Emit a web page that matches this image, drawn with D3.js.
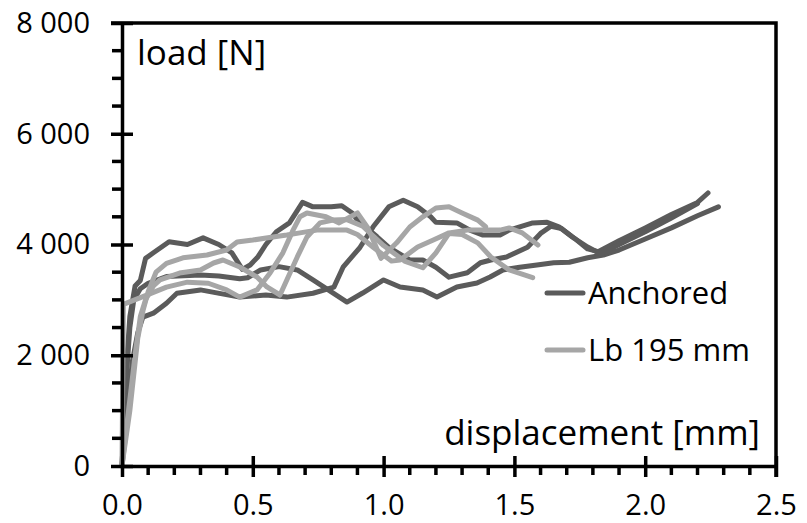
<!DOCTYPE html>
<html>
<head>
<meta charset="utf-8">
<script src="https://cdn.jsdelivr.net/npm/d3@7"></script>
<style>
  body { margin: 0; background: #fff; }
  svg text { font-family: "Open Sans", "Noto Sans", sans-serif; fill: #000; }
  .tick-label { font-size: 29px; }
  .title { font-size: 35px; }
  .legend { font-size: 31px; }
</style>
</head>
<body>
<svg id="chart" width="807" height="523"></svg>
<script>
// displacement [mm], load [N]
var anchored1 = [[0,0],[0.01,1000],[0.02,2000],[0.03,2700],[0.05,3250],[0.07,3350],[0.09,3750],[0.12,3850],[0.18,4050],[0.25,4000],[0.31,4120],[0.37,4000],[0.42,3850],[0.46,3550],[0.49,3630],[0.52,3780],[0.55,4000],[0.59,4230],[0.64,4390],[0.69,4760],[0.73,4680],[0.8,4680],[0.84,4700],[0.88,4570],[0.9,4440],[0.975,4140],[1.02,3950],[1.1,3720],[1.15,3720],[1.2,3590],[1.25,3410],[1.32,3490],[1.37,3670],[1.41,3720],[1.47,3775],[1.55,3950],[1.6,4200],[1.64,4330],[1.68,4290],[1.73,4110],[1.78,3920],[1.82,3870],[1.9,4070],[2.0,4300],[2.1,4540],[2.2,4760],[2.24,4930]];
var anchored2 = [[0,0],[0.015,1500],[0.03,2500],[0.045,3000],[0.07,3200],[0.1,3300],[0.17,3420],[0.3,3450],[0.37,3430],[0.45,3380],[0.48,3400],[0.53,3540],[0.6,3600],[0.67,3540],[0.73,3360],[0.86,2960],[0.92,3124],[1.0,3360],[1.063,3233],[1.15,3178],[1.204,3052],[1.28,3233],[1.357,3305],[1.407,3413],[1.456,3540],[1.52,3590],[1.586,3630],[1.65,3670],[1.71,3680],[1.78,3760],[1.84,3810],[1.9,3900],[2.0,4100],[2.1,4300],[2.2,4520],[2.28,4680]];
var anchored3 = [[0,0],[0.02,1000],[0.04,1900],[0.06,2400],[0.08,2690],[0.12,2760],[0.17,2940],[0.21,3120],[0.3,3180],[0.45,3050],[0.55,3090],[0.63,3050],[0.73,3120],[0.81,3230],[0.845,3590],[0.91,3950],[0.96,4320],[1.02,4680],[1.075,4800],[1.13,4680],[1.18,4500],[1.2,4400],[1.28,4390],[1.33,4260],[1.38,4170],[1.445,4170],[1.48,4260],[1.57,4390],[1.625,4400],[1.67,4320],[1.72,4140],[1.78,3955],[1.83,3830],[1.9,4000],[2.0,4230],[2.1,4480],[2.2,4740]];

var lb1 = [[0,0],[0.005,2920],[0.08,3060],[0.17,3230],[0.25,3320],[0.33,3300],[0.4,3180],[0.45,3050],[0.516,3180],[0.566,3485],[0.615,3850],[0.654,4260],[0.68,4500],[0.707,4570],[0.78,4500],[0.83,4390],[0.9,4570],[0.94,4300],[0.99,3750],[1.05,4030],[1.1,4316],[1.15,4500],[1.2,4660],[1.25,4680],[1.3,4570],[1.36,4440],[1.39,4320]];
var lb2 = [[0,0],[0.03,1000],[0.06,2300],[0.08,2800],[0.1,3150],[0.13,3500],[0.17,3660],[0.233,3760],[0.325,3810],[0.4,3900],[0.44,4045],[0.5,4080],[0.577,4136],[0.63,4170],[0.68,4210],[0.745,4260],[0.807,4260],[0.86,4260],[0.9,4180],[0.96,3950],[1.03,3700],[1.063,3720],[1.13,3955],[1.19,4080],[1.25,4210],[1.32,4260],[1.445,4260],[1.48,4300],[1.53,4210],[1.59,3990]];
var lb3 = [[0,0],[0.02,800],[0.05,2000],[0.07,2700],[0.09,3000],[0.12,3250],[0.145,3360],[0.22,3485],[0.3,3540],[0.35,3666],[0.386,3720],[0.45,3594],[0.516,3413],[0.554,3233],[0.604,3088],[0.63,3360],[0.67,3775],[0.707,4136],[0.757,4390],[0.807,4443],[0.86,4450],[0.92,4330],[1.0,3980],[1.08,3700],[1.15,3580],[1.2,3850],[1.25,4200],[1.3,4180],[1.36,4030],[1.41,3775],[1.48,3540],[1.57,3400]];

var xTicks = [0, 0.5, 1.0, 1.5, 2.0, 2.5];
var yTicks = [0, 2000, 4000, 6000, 8000];
var xMinor = [0.1, 0.2, 0.3, 0.4, 0.6, 0.7, 0.8, 0.9, 1.1, 1.2, 1.3, 1.4, 1.6, 1.7, 1.8, 1.9, 2.1, 2.2, 2.3, 2.4];
var yMinor = [500, 1000, 1500, 2500, 3000, 3500, 4500, 5000, 5500, 6500, 7000, 7500];
var seriesNames = ["Anchored", "Lb 195 mm"];
var seriesColors = ["#5b5b5b", "#a6a6a6"];

var svg = d3.select("#chart"),
    margin = {top: 23, right: 31, bottom: 57, left: 122},
    width  = +svg.attr("width") - margin.left - margin.right,
    height = +svg.attr("height") - margin.top - margin.bottom,
    g = svg.append("g").attr("transform", "translate(" + margin.left + "," + margin.top + ")"),
    lw = 3.5;

var x = d3.scaleLinear().domain([0, 2.5]).range([0, width]);
var y = d3.scaleLinear().domain([0, 8000]).range([height, 0]);

var line = d3.line()
    .x(function(d) { return x(d[0]); })
    .y(function(d) { return y(d[1]); });

// curves
var curves = [
  {data: anchored1, c: 0}, {data: anchored2, c: 0}, {data: anchored3, c: 0},
  {data: lb1, c: 1}, {data: lb2, c: 1}, {data: lb3, c: 1}
];
g.selectAll("path.curve")
    .data(curves)
  .enter().append("path")
    .attr("class", "curve")
    .attr("fill", "none")
    .attr("stroke", function(d) { return seriesColors[d.c]; })
    .attr("stroke-width", 5)
    .attr("stroke-linejoin", "round")
    .attr("stroke-linecap", "round")
    .attr("d", function(d) { return line(d.data); });

// axes: d3 axes give labels and major ticks
var yAxis = g.append("g")
    .attr("class", "axis axis--y")
    .call(d3.axisLeft(y).tickValues(yTicks).tickSizeInner(11).tickSizeOuter(0)
      .tickFormat(function(d) { return d3.format(",")(d).replace(",", " "); }));
yAxis.select(".domain").attr("stroke", "#000").attr("stroke-width", lw);
yAxis.selectAll(".tick line")
    .attr("stroke", "#000").attr("stroke-width", lw)
    .attr("x1", 11).attr("x2", -11);
yAxis.selectAll(".tick text")
    .attr("class", "tick-label")
    .attr("x", -32)
    .attr("fill", "#000")
    .attr("font-family", null).attr("font-size", null);

var xAxis = g.append("g")
    .attr("class", "axis axis--x")
    .attr("transform", "translate(0," + height + ")")
    .call(d3.axisBottom(x).tickValues(xTicks).tickSizeInner(11).tickSizeOuter(0)
      .tickFormat(d3.format(".1f")));
xAxis.select(".domain").attr("stroke", "#000").attr("stroke-width", lw);
xAxis.selectAll(".tick line")
    .attr("stroke", "#000").attr("stroke-width", lw)
    .attr("y1", function(d) { return d === 0 ? 0 : -10; }).attr("y2", 11);
xAxis.selectAll(".tick text")
    .attr("class", "tick-label")
    .attr("y", 28)
    .attr("dy", "0.71em")
    .attr("fill", "#000")
    .attr("font-family", null).attr("font-size", null);

// frame top + right, minor ticks
var ax = g.append("g").attr("class", "axis-lines")
    .attr("stroke", "#000").attr("stroke-width", lw).attr("fill", "none");
ax.append("path").attr("d", "M-11,0H" + width + "V" + (height + 11));
ax.selectAll(".ymin").data(yMinor).enter().append("line")
    .attr("class", "ymin")
    .attr("x1", -10).attr("x2", 0)
    .attr("y1", function(d) { return y(d); }).attr("y2", function(d) { return y(d); });
ax.selectAll(".xmin").data(xMinor).enter().append("line")
    .attr("class", "xmin")
    .attr("x1", function(d) { return x(d); }).attr("x2", function(d) { return x(d); })
    .attr("y1", height).attr("y2", height + 9);

// axis titles
g.append("text")
    .attr("class", "title")
    .attr("x", 15)
    .attr("y", 42)
    .text("load [N]");
g.append("text")
    .attr("class", "title")
    .attr("x", width - 16)
    .attr("y", height - 21)
    .attr("text-anchor", "end")
    .text("displacement [mm]");

// legend
var legend = g.append("g").attr("transform", "translate(423,270)");
seriesNames.forEach(function(name, i) {
  var row = legend.append("g").attr("transform", "translate(0," + (i * 57) + ")");
  row.append("line")
      .attr("x1", 2).attr("x2", 38)
      .attr("stroke", seriesColors[i])
      .attr("stroke-width", 5)
      .attr("stroke-linecap", "round");
  row.append("text")
      .attr("class", "legend")
      .attr("x", 43)
      .attr("dy", "0.35em")
      .text(name);
});
</script>
</body>
</html>
